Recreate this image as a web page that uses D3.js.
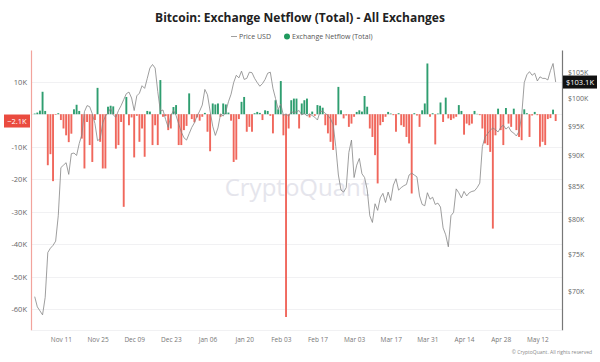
<!DOCTYPE html>
<html><head><meta charset="utf-8">
<script src="https://cdn.jsdelivr.net/npm/d3@7"></script>
<style>
html,body{margin:0;padding:0;background:#fff;}
svg{display:block;font-family:"Open Sans",sans-serif;}
</style></head><body>
<svg id="chart" width="600" height="362"></svg>
<script>
const startDate = "2024-11-01";
// Exchange netflow (thousand BTC), daily
const netflow = [
0.2,0.5,1.1,6.9,1.0,-15.7,-12.3,-20.6,-0.2,0.3,
-1.8,-4.4,-6.5,-8.6,-6.0,1.5,2.9,1.0,-7.5,-16.7,
-2.4,-9.5,-14.7,-1.8,8.1,-8.5,-16.7,-16.7,2.3,2.6,
2.4,-10.6,-9.5,-2.4,-28.5,5.3,-3.4,-1.0,-13.3,-0.5,
-8.5,-4.4,-13.1,1.0,0.8,-9.5,-3.4,-9.5,10.5,-0.8,
-0.6,-4.9,-4.4,2.2,2.8,-9.5,-9.5,-4.9,-3.6,6.4,
-1.5,-2.5,-1.0,-2.0,-0.8,0.4,-5.4,-11.4,3.3,3.0,
3.3,-0.8,3.3,3.0,0.5,-2.0,-14.7,-14.0,-1.5,3.8,
5.3,-5.4,-3.9,-5.4,0.3,0.7,0.4,-1.8,1.2,1.0,
-0.5,-5.9,4.3,1.5,10.2,-6.5,-62.4,-4.4,4.3,4.8,
4.8,-4.4,3.3,4.3,4.8,-1.0,0.8,-0.5,2.8,2.6,
2.0,-3.4,-5.9,-8.5,-11.0,-3.4,8.4,1.2,-1.3,-0.4,
-3.9,-2.9,-0.8,0.7,1.2,0.8,5.6,2.3,-4.4,-7.0,
-12.6,-21.3,-3.4,-2.4,-0.8,0.7,0.2,-0.3,-5.4,0.3,
-3.4,-3.9,-7.0,-9.0,-24.4,0.3,-0.4,-3.9,1.2,3.3,
15.6,-0.8,0.3,-9.3,0.2,3.6,-2.4,5.1,-1.3,-1.8,
-1.3,-0.8,2.8,1.0,-6.3,-2.9,-3.4,-2.9,1.0,0.1,
-0.3,-4.4,-9.0,-9.5,-11.6,-35.2,-6.5,1.7,-4.9,-9.5,
1.9,-2.9,-3.9,1.7,-4.9,-7.0,-8.0,1.5,0.3,-7.0,
-0.4,0.7,-0.3,-10.0,-8.5,-9.5,-1.5,-1.2,1.4,-2.1
];
// Price USD (thousands), daily
const price = [
69.3,68.0,67.5,67.0,69.2,75.2,75.8,76.2,76.8,80.5,
88.0,88.4,88.8,86.9,90.3,90.4,90.0,92.0,93.5,97.6,
98.7,98.5,97.2,95.5,92.5,92.8,95.6,96.8,97.4,98.2,
97.0,96.6,97.8,98.7,99.8,100.9,101.2,100.1,97.8,100.5,
101.0,102.4,101.9,103.8,105.8,106.5,105.8,101.3,97.7,97.9,
96.2,94.8,96.9,97.8,96.9,95.4,94.0,93.0,92.6,93.7,
94.8,95.6,96.8,97.7,98.8,101.7,100.7,97.7,95.0,93.4,
94.7,97.2,96.8,97.6,99.4,100.8,103.0,104.4,103.9,105.2,
103.6,103.8,105.0,104.9,103.8,103.0,102.3,102.8,103.6,104.8,
105.0,101.9,100.0,98.0,99.0,96.9,97.2,96.8,97.6,97.4,
97.6,97.8,97.0,97.3,96.8,97.2,96.9,96.6,96.1,97.6,
97.7,97.3,96.9,96.3,95.3,91.5,86.8,84.4,84.1,84.8,
90.5,92.6,86.4,88.4,89.5,87.0,86.4,84.5,80.5,79.5,
82.3,81.3,83.2,83.9,82.5,84.1,82.8,85.2,86.2,84.4,
84.8,85.1,85.3,86.8,87.1,86.8,86.5,83.5,82.2,82.0,
84.0,83.0,83.3,82.2,82.4,81.8,78.7,77.7,76.0,80.5,
81.0,84.6,84.0,83.2,84.2,83.5,84.0,84.2,84.3,84.8,
85.5,91.5,93.1,93.7,94.3,94.7,94.4,94.0,94.8,95.2,
94.5,94.9,94.1,93.8,93.3,94.1,96.8,103.0,104.5,105.1,
104.4,104.8,103.3,104.1,103.8,103.8,103.5,105.3,106.7,103.1
];
const netflowTicks = [10,-10,-20,-30,-40,-50,-60];
const gridTicks = [10,0,-10,-20,-30,-40,-50,-60];
const priceTicks = [70,75,80,85,90,95,100,105];
const dateTicks = ["2024-11-11","2024-11-25","2024-12-09","2024-12-23","2025-01-06","2025-01-20","2025-02-03","2025-02-17","2025-03-03","2025-03-17","2025-03-31","2025-04-14","2025-04-28","2025-05-12"];

const parse = d3.utcParse("%Y-%m-%d");
const t0 = parse(startDate);
const dates = netflow.map((_, i) => d3.utcDay.offset(t0, i));

const svg = d3.select("#chart");
const L = 31, R = 562, T = 50, B = 330;
const x = d3.scaleUtc()
  .domain([new Date(Date.UTC(2024,9,30,14)), new Date(Date.UTC(2025,4,21,10))])
  .range([L, R]);
const yN = d3.scaleLinear().domain([-66.4, 19.75]).range([B, T]);
const yP = d3.scaleLog().domain([65.15, 109.4]).range([B, T]);

const GREEN = "#2f9e70", RED = "#f0675c";

// gridlines
svg.append("g").selectAll("line").data(gridTicks).join("line")
  .attr("x1", L).attr("x2", R)
  .attr("y1", d => Math.round(yN(d)) + 0.5).attr("y2", d => Math.round(yN(d)) + 0.5)
  .attr("stroke", "#f1f1f3").attr("stroke-width", 1);

// watermark
svg.append("text").attr("x", 297).attr("y", 196).attr("text-anchor", "middle")
  .attr("font-size", 24).attr("fill", "#e5e5ec").attr("font-family", "'Open Sans',sans-serif")
  .text("CryptoQuant");

// bars
const bw = 1.9;
svg.append("g").selectAll("rect").data(netflow).join("rect")
  .attr("x", (d, i) => x(dates[i]) - bw / 2)
  .attr("width", bw)
  .attr("y", d => yN(Math.max(0, d)))
  .attr("height", d => Math.abs(yN(d) - yN(0)))
  .attr("fill", d => d >= 0 ? GREEN : RED);

// price line
const line = d3.line().x((d, i) => x(dates[i])).y(d => yP(d));
svg.append("path").datum(price).attr("d", line)
  .attr("fill", "none").attr("stroke", "#858585").attr("stroke-width", 0.8);

// left axis
const axL = svg.append("g").attr("transform", `translate(${L},0)`)
  .call(d3.axisLeft(yN).tickValues(netflowTicks).tickSize(0).tickPadding(4)
    .tickFormat(d => d + "K"));
axL.select(".domain").attr("stroke", "#f2a39c").attr("stroke-width", 1.2);
axL.selectAll("text").attr("font-size", 7.5).attr("fill", "#666").attr("font-family", "'Open Sans',sans-serif");

// right axis
const axR = svg.append("g").attr("transform", `translate(${R},0)`)
  .call(d3.axisRight(yP).tickValues(priceTicks).tickSize(0).tickPadding(6)
    .tickFormat(d => "$" + d + "K"));
axR.select(".domain").attr("stroke", "#777").attr("stroke-width", 1.2);
axR.selectAll("text").attr("font-size", 7).attr("fill", "#666").attr("font-family", "'Open Sans',sans-serif");

// bottom axis
const axB = svg.append("g").attr("transform", `translate(0,${B})`)
  .call(d3.axisBottom(x).tickValues(dateTicks.map(parse)).tickSize(0).tickPadding(7)
    .tickFormat(d3.utcFormat("%b %d")));
axB.select(".domain").attr("stroke", "#f1f1f3");
axB.selectAll("text").attr("font-size", 6.5).attr("fill", "#777").attr("font-family", "'Open Sans',sans-serif");

// last value labels
const lastN = netflow[netflow.length - 1], lastP = price[price.length - 1];
const gN = svg.append("g").attr("transform", `translate(0,${yN(lastN)})`);
gN.append("rect").attr("x", 4).attr("y", -6.5).attr("width", 26).attr("height", 13).attr("fill", "#ea4b3f");
gN.append("text").attr("x", 17).attr("y", 3).attr("text-anchor", "middle").attr("font-size", 7.5).attr("fill", "#fff")
  .text(d3.format(".1f")(lastN) + "K");
const gP = svg.append("g").attr("transform", `translate(${R},${yP(lastP)})`);
gP.append("rect").attr("x", 1).attr("y", -6.5).attr("width", 34).attr("height", 13).attr("fill", "#111");
gP.append("text").attr("x", 18).attr("y", 3).attr("text-anchor", "middle").attr("font-size", 7.5).attr("fill", "#fff")
  .text("$" + d3.format(".1f")(lastP) + "K");

// title
svg.append("text").attr("x", 300).attr("y", 22).attr("text-anchor", "middle")
  .attr("font-size", 12).attr("font-weight", "bold").attr("fill", "#222")
  .text("Bitcoin: Exchange Netflow (Total) - All Exchanges");

// legend
const lg = svg.append("g").attr("transform", "translate(0,39)");
lg.append("line").attr("x1", 231).attr("x2", 237).attr("y1", -2.5).attr("y2", -2.5).attr("stroke", "#888").attr("stroke-width", 0.8);
lg.append("text").attr("x", 239).attr("y", 0).attr("font-size", 7).attr("fill", "#555").text("Price USD");
lg.append("circle").attr("cx", 287).attr("cy", -2.5).attr("r", 3).attr("fill", "#1f9a5e");
lg.append("text").attr("x", 292).attr("y", 0).attr("font-size", 7).attr("fill", "#555").text("Exchange Netflow (Total)");

// copyright
svg.append("text").attr("x", 592).attr("y", 354).attr("text-anchor", "end")
  .attr("font-size", 5).attr("fill", "#888").text("© CryptoQuant. All rights reserved");
</script>
</body></html>
